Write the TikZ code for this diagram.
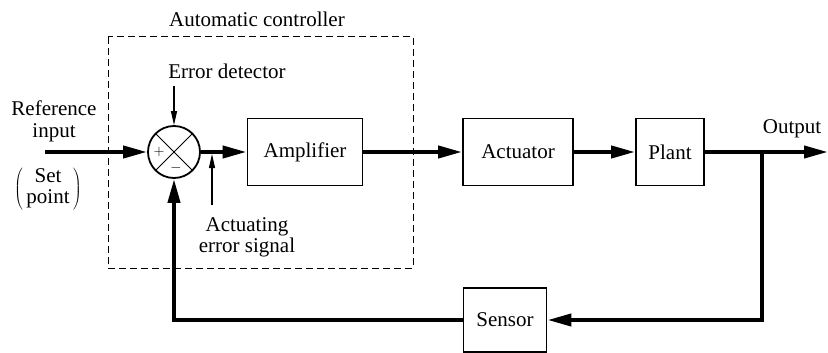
\documentclass[tikz,border=0pt]{standalone}
\usepackage{fontspec}
\setmainfont{Liberation Serif}
\usetikzlibrary{arrows.meta, shapes.geometric}

\tikzset{
  font=\fontsize{21}{21}\selectfont,
  %
  block/.style={draw, line width=1.8pt, minimum height=67pt, inner sep=0pt,
                align=center},
  sumjunction/.style={draw, circle, line width=1.8pt, minimum size=52pt,
                      inner sep=0pt},
  %
  signal/.style={line width=4pt, -{Triangle[length=24pt, width=12pt]}},
  pointer/.style={line width=1.1pt, -{Triangle[length=14pt, width=6pt]}},
  ctrlbox/.style={draw, line width=1pt, dash pattern=on 7pt off 4pt},
  %
  lbl/.style={align=center, inner sep=0pt, anchor=base},
  sign/.style={font=\fontsize{15}{15}\selectfont, inner sep=0pt},
}

\begin{document}
\begin{tikzpicture}[x=1pt, y=-1pt]
  \useasboundingbox (0,0) rectangle (828,353);

  % automatic controller
  \draw[ctrlbox] (108,37) rectangle (413,268);
  \node[lbl] (ctrltitle) at (257,27) {Automatic controller};

  \node[sumjunction] (sum) at (174,152) {};
  \draw[line width=1pt] (sum.north west) -- (sum.south east)
                        (sum.north east) -- (sum.south west);
  \node[sign] (plus) at (159,152) {$+$};
  \node[sign] (minus) at (176,168) {$-$};

  \node[block, minimum width=115pt] (amp) at (305,152) {Amplifier};
  \node[block, minimum width=110pt] (act) at (518,152) {Actuator};
  \node[block, minimum width=68pt] (plant) at (670,152) {Plant};
  \node[block, minimum width=83pt, minimum height=64pt] (sensor) at (505,320) {Sensor};

  % labels (base of a two-line label is its last line)
  \node[lbl] (refin) at (54,137) {Reference\\input};
  \node[inner sep=0pt] (setpt) at (48,189)
    {$\left(\,\begin{tabular}{@{}c@{}}Set\\point\end{tabular}\,\right)$};
  \node[lbl] (errdet) at (227,79) {Error detector};
  \node[lbl] (aes) at (247,252) {Actuating\\error signal};
  \node[lbl] (outlbl) at (792,133) {Output};

  \coordinate (in) at (45,152);
  \coordinate (out) at (828,152);
  \coordinate (branch) at (762,152);
  \coordinate (edtail) at (174,86);
  \coordinate (aestail) at (212,205);
  \coordinate (tap) at (212,154);

  % signal path
  \draw[signal] (in) -- (sum.west);
  \draw[signal] (sum.east) -- (amp.west);
  \draw[signal] (amp) -- (act);
  \draw[signal] (act) -- (plant);
  \draw[signal] (plant) -- (out);
  \draw[signal] (branch) |- (sensor.east);
  \draw[signal] (sensor.west) -| (sum.south);

  % pointers
  \draw[pointer] (edtail) -- (sum.north);
  \draw[pointer] (aestail) -- (tap);

\end{tikzpicture}
\end{document}
